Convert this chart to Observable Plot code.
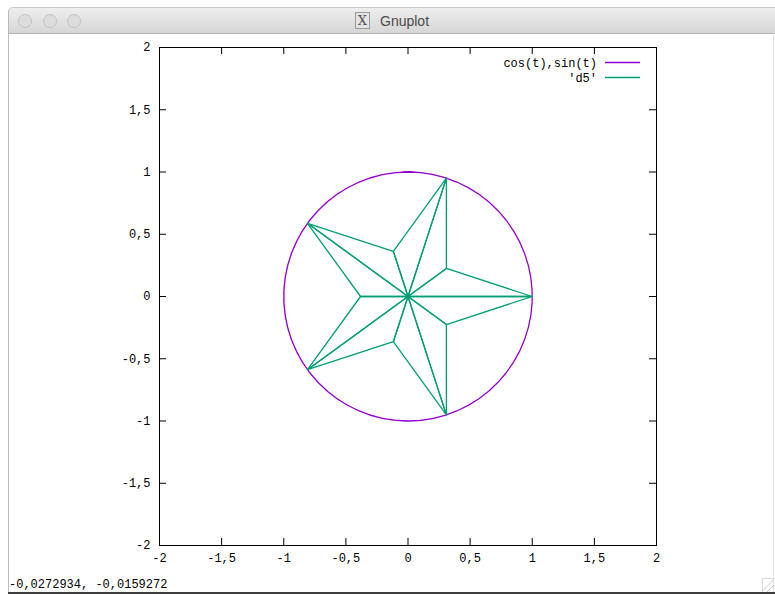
<!DOCTYPE html>
<html>
<head>
<meta charset="utf-8">
<script src="https://cdn.jsdelivr.net/npm/d3@7"></script>
<script src="https://cdn.jsdelivr.net/npm/@observablehq/plot@0.6"></script>
<style>
  html, body { margin: 0; padding: 0; background: #fff; width: 775px; height: 594px; overflow: hidden; }
  body { position: relative; }
  #titlebar { position: absolute; left: 8px; top: 7px; width: 767px; height: 27px; box-sizing: border-box;
    background: linear-gradient(#eeeeee, #d6d6d6); border-top: 1px solid #c8c8c8; border-left: 1px solid #b9b9b9;
    border-bottom: 1px solid #b0b0b0; border-top-left-radius: 5px; }
  .light { position: absolute; top: 6px; width: 12px; height: 12px; border-radius: 50%;
    background: #dcdcdc; border: 1px solid #c4c4c4; }
  #wtitle { position: absolute; left: 380px; top: 13px; font-family: "Liberation Sans", Arial, sans-serif;
    font-size: 14px; color: #4a4a4a; line-height: 16px; }
  #xicon { position: absolute; left: 355px; top: 12px; width: 15px; height: 17px; box-sizing: border-box;
    border: 1px solid #9a9a9a; background: #e4e4e4; font-family: "DejaVu Serif", serif; font-size: 13px;
    line-height: 15px; text-align: center; color: #555; }
  #leftborder { position: absolute; left: 8px; top: 33px; width: 1px; height: 560px; background: #bcbcbc; }
  #rightborder { position: absolute; left: 773px; top: 33px; width: 1px; height: 560px; background: #e2e2e2; }
  #bottomborder { position: absolute; left: 8px; top: 592px; width: 767px; height: 2px; background: #3c3c3c; }
  #chart { position: absolute; left: 0; top: 34px; }
  #status { position: absolute; left: 9px; top: 578px; font-family: "Liberation Mono", "DejaVu Sans Mono", monospace;
    font-size: 12px; line-height: 14px; color: #000; }
  #grip { position: absolute; left: 762px; top: 578px; width: 11px; height: 13px; border-left: 1px solid #d8d8d8; border-top: 1px solid #d8d8d8;
    background: linear-gradient(135deg, transparent 45%, #bdbdbd 47%, transparent 52%, transparent 68%, #bdbdbd 70%, transparent 75%); }
</style>
</head>
<body>
<div id="titlebar">
  <div class="light" style="left:9px"></div>
  <div class="light" style="left:34px"></div>
  <div class="light" style="left:58px"></div>
</div>
<div id="xicon">X</div>
<div id="wtitle">Gnuplot</div>
<div id="leftborder"></div>
<div id="rightborder"></div>
<div id="chart"></div>
<div id="status">-0,0272934, -0,0159272</div>
<div id="grip"></div>
<div id="bottomborder"></div>
<script>
// ---- data ----
const axisDomain = [-2, 2];
const tickLabels = [-2, -1.5, -1, -0.5, 0, 0.5, 1, 1.5, 2];
const innerTicks = [-1.5, -1, -0.5, 0, 0.5, 1, 1.5];

const seriesNames = ["cos(t),sin(t)", "'d5'"];
const seriesColors = ["#9400d3", "#009e73"];

// parametric function as plotted by gnuplot: cos(t),sin(t), t in [-5,5], 100 samples
const tRange = [-5, 5];
const tSamples = 100;

// 'd5' data file: star vertices
const starCenter = [0, 0];
const starOuterX = [1.0, 0.309, -0.809, -0.809, 0.309];
const starOuterY = [0.0, 0.951, 0.588, -0.588, -0.951];
const starInnerX = [0.309, -0.118, -0.382, -0.118, 0.309];
const starInnerY = [0.225, 0.363, 0.0, -0.363, -0.225];

// ---- build tables ----
const circleRows = d3.range(tSamples).map(i => {
  const t = tRange[0] + (tRange[1] - tRange[0]) * i / (tSamples - 1);
  return {x: Math.cos(t), y: Math.sin(t)};
});

const d5Rows = [];
let tri = 0;
for (let k = 0; k < 5; k++) {
  for (const j of [k, (k + 4) % 5]) {
    const pts = [
      starCenter,
      [starOuterX[k], starOuterY[k]],
      [starInnerX[j], starInnerY[j]],
      starCenter
    ];
    for (const p of pts) d5Rows.push({x: p[0], y: p[1], tri});
    tri++;
  }
}

const fmt = d => String(d).replace(".", ",");

const W = 775, H = 560, ML = 159, MR = 119, MT = 13, MB = 49;
const innerW = W - ML - MR, innerH = H - MT - MB;
const tickLen = 7;

function legendMark(index, scales, values, dims) {
  const right = dims.width - dims.marginRight;
  const g = d3.create("svg:g");
  seriesNames.forEach((name, i) => {
    const y = dims.marginTop + 15.5 + i * 15;
    g.append("text")
      .attr("x", right - 59).attr("y", y).attr("dy", "0.35em")
      .attr("text-anchor", "end")
      .attr("font-family", "'Liberation Mono', 'DejaVu Sans Mono', monospace")
      .attr("font-size", 12).attr("fill", "#000")
      .text(name);
    g.append("line")
      .attr("x1", right - 51).attr("x2", right - 16)
      .attr("y1", y).attr("y2", y)
      .attr("stroke", seriesColors[i]).attr("stroke-width", 1.3);
  });
  return g.node();
}

const chart = Plot.plot({
  width: W, height: H,
  marginLeft: ML, marginRight: MR, marginTop: MT, marginBottom: MB,
  x: {domain: axisDomain, label: null},
  y: {domain: axisDomain, label: null},
  style: {fontFamily: "'Liberation Mono', 'DejaVu Sans Mono', monospace", fontSize: "12px", color: "#000", background: "transparent"},
  marks: [
    Plot.line(circleRows, {x: "x", y: "y", stroke: seriesColors[0], strokeWidth: 1.3}),
    Plot.line(d5Rows, {x: "x", y: "y", z: "tri", stroke: seriesColors[1], strokeWidth: 1.3}),
    Plot.ruleX(innerTicks, {x: d => d, insetTop: innerH - tickLen, stroke: "#000"}),
    Plot.ruleX(innerTicks, {x: d => d, insetBottom: innerH - tickLen, stroke: "#000"}),
    Plot.ruleY(innerTicks, {y: d => d, insetRight: innerW - tickLen, stroke: "#000"}),
    Plot.ruleY(innerTicks, {y: d => d, insetLeft: innerW - tickLen, stroke: "#000"}),
    Plot.frame({stroke: "#000"}),
    Plot.axisX({ticks: tickLabels, tickSize: 0, tickPadding: 8, tickFormat: fmt, anchor: "bottom"}),
    Plot.axisY({ticks: tickLabels, tickSize: 0, tickPadding: 9, tickFormat: fmt, anchor: "left"}),
    legendMark
  ]
});
document.getElementById("chart").appendChild(chart);
</script>
</body>
</html>
